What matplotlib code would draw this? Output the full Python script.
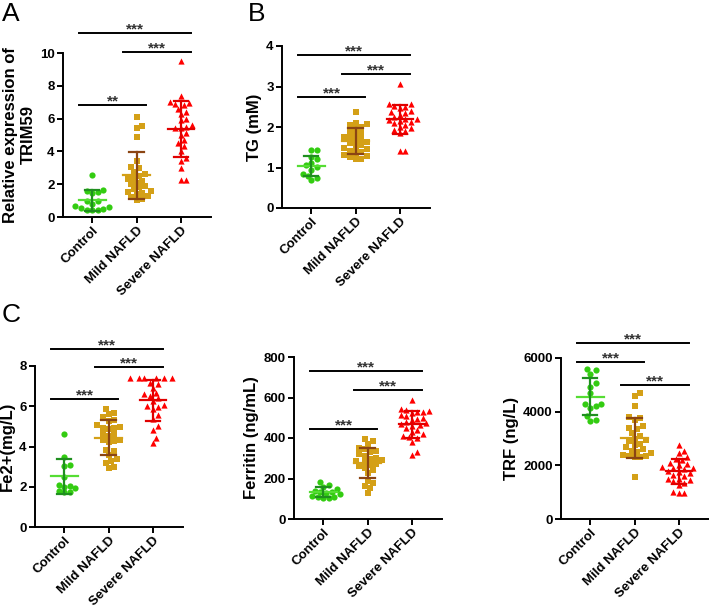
import matplotlib
matplotlib.use("Agg")
import matplotlib.pyplot as plt
import numpy as np

plt.rcParams['font.family'] = ['Liberation Sans', 'DejaVu Sans']
plt.rcParams['font.weight'] = 'bold'

groups = ["Control", "Mild NAFLD", "Severe NAFLD"]

# TRIM59 relative expression
trim59_ctrl = [2.55, 1.62, 1.58, 1.55, 1.45, 1.0, 0.95, 0.8, 0.7, 0.6, 0.5, 0.45, 0.4, 0.45, 0.55]
trim59_mild = [6.1, 5.55, 5.4, 4.85, 3.4, 3.05, 3.0, 2.75, 2.6, 2.5, 2.4, 2.3, 2.2, 2.1, 2.0,
               1.9, 1.8, 1.7, 1.6, 1.5, 1.45, 1.4, 1.3, 1.2, 1.1, 1.05]
trim59_sev = [9.5, 7.4, 7.0, 6.95, 6.9, 6.8, 6.6, 6.4, 6.3, 6.0, 5.9, 5.6, 5.5, 5.4, 5.4,
              5.1, 5.0, 4.7, 4.5, 4.3, 4.0, 3.6, 3.4, 3.0, 2.25, 2.25]

# TG (mM)
tg_ctrl = [1.43, 1.42, 1.25, 1.2, 1.1, 1.05, 1.02, 0.95, 0.85, 0.8, 0.75, 0.68]
tg_mild = [2.38, 2.1, 2.08, 2.05, 2.0, 1.95, 1.9, 1.85, 1.8, 1.75, 1.75, 1.7, 1.65, 1.62,
           1.6, 1.55, 1.5, 1.48, 1.45, 1.4, 1.38, 1.35, 1.3, 1.28, 1.25, 1.22, 1.2]
tg_sev = [3.05, 2.58, 2.56, 2.52, 2.5, 2.48, 2.4, 2.38, 2.35, 2.3, 2.25, 2.2, 2.2, 2.18,
          2.15, 2.12, 2.1, 2.05, 2.0, 1.98, 1.92, 1.9, 1.85, 1.4, 1.4]

# Fe2+ (mg/L)
fe_ctrl = [4.62, 3.5, 3.1, 3.05, 2.5, 2.1, 2.05, 2.0, 1.95, 1.8, 1.75, 1.72]
fe_mild = [5.85, 5.65, 5.6, 5.45, 5.3, 5.25, 5.05, 4.95, 4.9, 4.9, 4.85, 4.6, 4.6, 4.5,
           4.3, 4.3, 4.25, 4.2, 3.85, 3.8, 3.6, 3.4, 3.3, 3.2, 3.0, 2.95]
fe_sev = [7.38, 7.38, 7.38, 7.38, 7.38, 7.38, 7.15, 7.1, 6.9, 6.65, 6.6, 6.5, 6.4, 6.25,
          6.05, 6.0, 5.95, 5.85, 5.55, 5.35, 5.0, 4.8, 4.4, 4.15]

# Ferritin (ng/mL)
fer_ctrl = [185, 168, 160, 150, 140, 135, 135, 130, 125, 115, 110, 108, 105, 105]
fer_mild = [395, 385, 370, 350, 345, 335, 330, 320, 310, 300, 295, 290, 285, 280, 270,
            265, 260, 250, 240, 225, 190, 180, 165, 155, 130]
fer_sev = [590, 545, 540, 535, 530, 530, 525, 515, 510, 500, 495, 490, 480, 475, 470,
           465, 460, 450, 440, 430, 420, 410, 405, 400, 380, 330, 315]

# TRF (ng/L)
trf_ctrl = [5600, 5550, 5400, 5050, 4920, 4700, 4300, 4280, 4200, 4150, 3850, 3680, 3650]
trf_mild = [4700, 4600, 4200, 3800, 3750, 3700, 3450, 3400, 3350, 3200, 3100, 3000, 2950,
            2900, 2800, 2750, 2700, 2600, 2550, 2500, 2450, 2400, 2350, 2350, 2300, 2300, 1560]
trf_sev = [2750, 2520, 2450, 2300, 2250, 2200, 2100, 2050, 2000, 1950, 1900, 1900, 1850,
           1800, 1750, 1700, 1650, 1600, 1500, 1400, 1350, 1500, 1450, 1000, 980, 970, 1250]

marker_col = ["#33cc11", "#d4a017", "#ff0000"]
mean_col = ["#55dd33", "#d4a017", "#e00000"]
sd_col = ["#1f8f1f", "#8b4513", "#e00000"]
markers = ["o", "s", "^"]

W, H = 709, 608
fig = plt.figure(figsize=(W / 100, H / 100), dpi=100)


def swarm(vals, ppu, d=5.6, step=2.8):
    # simple beeswarm in pixel units, returns x offsets (px)
    vals = np.asarray(vals, float)
    offs = np.zeros(len(vals))
    placed = []
    cands = [0.0] + [s * j * step for j in range(1, 30) for s in (1, -1)]
    for i in np.argsort(vals):
        y = vals[i] * ppu
        for c in cands:
            if all((c - px) ** 2 + (y - py) ** 2 >= d * d for px, py in placed):
                break
        placed.append((c, y))
        offs[i] = c
    return offs


def panel(box, data, ymax, yticks, ylabel, brackets, label=None, label_xy=None):
    l, t, w, h = box
    ax = fig.add_axes([l / W, (H - t - h) / H, w / W, h / H])
    xlo, xhi = -0.66, 2.68
    ax.set_xlim(xlo, xhi)
    ax.set_ylim(0, ymax)
    ppu = h / ymax
    ppc = w / (xhi - xlo)
    for i, vals in enumerate(data):
        off = swarm(vals, ppu) / ppc
        ax.scatter(i + off, vals, s=20, marker=markers[i], color=marker_col[i],
                   linewidths=0, zorder=3, clip_on=False)
        m = np.mean(vals)
        sd = np.std(vals, ddof=1)
        ax.plot([i - 0.3, i + 0.3], [m, m], color=mean_col[i], lw=1.6, zorder=4)
        ax.plot([i, i], [m - sd, m + sd], color=sd_col[i], lw=1.6, zorder=4)
        for yy in (m - sd, m + sd):
            ax.plot([i - 0.16, i + 0.16], [yy, yy], color=sd_col[i], lw=1.6, zorder=4)
    for i, j, y, txt in brackets:
        ax.plot([i - 0.3, j + 0.22], [y, y], color="black", lw=1.4, clip_on=False)
        ax.annotate(txt, ((i - 0.3 + j + 0.22) / 2, y), xytext=(0, -2.5),
                    textcoords="offset points", ha="center", va="bottom",
                    fontsize=11, color="#333333", annotation_clip=False)
    for s in ("top", "right"):
        ax.spines[s].set_visible(False)
    for s in ("left", "bottom"):
        ax.spines[s].set_linewidth(1.4)
    ax.set_yticks(yticks)
    ax.set_xticks(range(3))
    ax.set_xticklabels(groups, rotation=45, ha="right", rotation_mode="anchor", fontsize=9)
    ax.tick_params(axis="both", direction="out", length=4, width=1.4, labelsize=9.5, pad=2)
    ax.tick_params(axis="x", pad=1.5)
    ax.set_ylabel(ylabel, fontsize=12, fontweight="bold", labelpad=3)
    if label:
        fig.text(label_xy[0] / W, 1 - label_xy[1] / H, label, fontsize=19,
                 fontweight="normal", va="top", ha="left")
    return ax


panel((63, 53, 148, 164), [trim59_ctrl, trim59_mild, trim59_sev], 10, [0, 2, 4, 6, 8, 10],
      "Relative expression of\nTRIM59", [(0, 2, 11.2, "***"), (1, 2, 10.06, "***"), (0, 1, 6.83, "**")],
      "A", (2, 2))
panel((282, 46, 148, 162), [tg_ctrl, tg_mild, tg_sev], 4, [0, 1, 2, 3, 4],
      "TG (mM)", [(0, 2, 3.78, "***"), (1, 2, 3.32, "***"), (0, 1, 2.73, "***")],
      "B", (248, 2))
panel((35, 366, 148, 161), [fe_ctrl, fe_mild, fe_sev], 8, [0, 2, 4, 6, 8],
      "Fe2+(mg/L)", [(0, 2, 8.85, "***"), (1, 2, 7.95, "***"), (0, 1, 6.34, "***")],
      "C", (2, 303))
panel((294, 357, 148, 162), [fer_ctrl, fer_mild, fer_sev], 800, [0, 200, 400, 600, 800],
      "Ferritin (ng/mL)", [(0, 2, 729, "***"), (1, 2, 635, "***"), (0, 1, 446, "***")])
panel((561, 358, 148, 161), [trf_ctrl, trf_mild, trf_sev], 6000, [0, 2000, 4000, 6000],
      "TRF (ng/L)", [(0, 2, 6557, "***"), (0, 1, 5852, "***"), (1, 2, 4986, "***")])

fig.savefig("out.png", dpi=100)
